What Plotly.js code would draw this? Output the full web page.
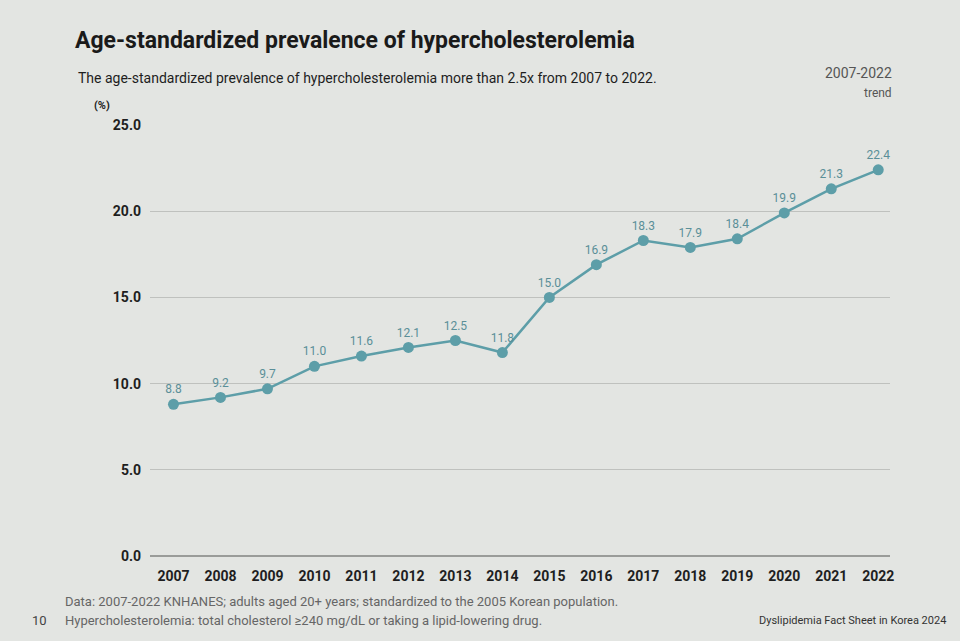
<!DOCTYPE html>
<html>
<head>
<meta charset="utf-8">
<script src="https://cdn.plot.ly/plotly-3.0.1.min.js"></script>
<style>
html,body{margin:0;padding:0;background:#e3e5e2;}
#chart{width:960px;height:641px;}
</style>
</head>
<body>
<div id="chart"></div>
<script>
const years = [2007,2008,2009,2010,2011,2012,2013,2014,2015,2016,2017,2018,2019,2020,2021,2022];
const prevalence = [8.8,9.2,9.7,11.0,11.6,12.1,12.5,11.8,15.0,16.9,18.3,17.9,18.4,19.9,21.3,22.4];
const yTicks = [0,5,10,15,20,25];
const yTickLabels = ["0.0","5.0","10.0","15.0","20.0","25.0"];

const lineColor = "#5d9ea8";

const trace = {
  x: years,
  y: prevalence,
  type: "scatter",
  mode: "lines+markers+text",
  line: {color: lineColor, width: 2.5},
  marker: {color: lineColor, size: 11},
  text: prevalence.map(v => v.toFixed(1)),
  textposition: "top center",
  textfont: {family: "Roboto, sans-serif", size: 12, color: "#5a8f98"},
  cliponaxis: false,
  hoverinfo: "skip"
};

const layout = {
  width: 960,
  height: 641,
  paper_bgcolor: "#e3e5e2",
  plot_bgcolor: "#e3e5e2",
  margin: {l: 150, r: 70, t: 125, b: 85},
  showlegend: false,
  font: {family: "Roboto, sans-serif", color: "#222"},
  xaxis: {
    range: [2006.5, 2022.25],
    tickvals: years,
    ticktext: years.map(String),
    showgrid: false,
    zeroline: false,
    showline: false,
    ticks: "",
    ticklabelstandoff: 10,
    tickfont: {family: "Roboto, sans-serif", size: 14, color: "#1e1e1e", weight: "bold"}
  },
  yaxis: {
    range: [0, 25],
    tickvals: yTicks,
    ticktext: yTickLabels,
    showgrid: true,
    gridcolor: "#bfc1be",
    gridwidth: 1,
    zeroline: true,
    zerolinecolor: "#9a9c99",
    zerolinewidth: 1.2,
    showline: false,
    ticks: "",
    ticklabelstandoff: 8,
    tickfont: {family: "Roboto, sans-serif", size: 14, color: "#1e1e1e", weight: "bold"}
  },
  title: {
    text: "<b>Age-standardized prevalence of hypercholesterolemia</b>",
    x: 75 / 960, xref: "container", xanchor: "left",
    y: 1 - 40 / 641, yref: "container", yanchor: "middle",
    font: {family: "Roboto, sans-serif", size: 23, color: "#1a1a1a"},
    automargin: false
  },
  annotations: [
    {xref: "paper", yref: "paper", x: -0.1, y: 1.109, xanchor: "left", yanchor: "middle", showarrow: false,
     text: "The age-standardized prevalence of hypercholesterolemia more than 2.5x from 2007 to 2022.",
     font: {family: "Roboto, sans-serif", size: 14, color: "#1e1e1e"}},
    {xref: "paper", yref: "paper", x: -0.078, y: 1.045, xanchor: "left", yanchor: "middle", showarrow: false,
     text: "<b>(%)</b>", font: {family: "Roboto, sans-serif", size: 11, color: "#222"}},
    {xref: "paper", yref: "paper", x: 1.005, y: 1.12, xanchor: "right", yanchor: "middle", showarrow: false,
     text: "2007-2022", font: {family: "Roboto, sans-serif", size: 14, color: "#555"}},
    {xref: "paper", yref: "paper", x: 1.005, y: 1.075, xanchor: "right", yanchor: "middle", showarrow: false,
     text: "trend", font: {family: "Roboto, sans-serif", size: 12, color: "#555"}},
    {xref: "paper", yref: "paper", x: -0.118, y: -0.105, xanchor: "left", yanchor: "middle", showarrow: false,
     text: "Data: 2007-2022 KNHANES; adults aged 20+ years; standardized to the 2005 Korean population.",
     font: {family: "Roboto, sans-serif", size: 13, color: "#666"}},
    {xref: "paper", yref: "paper", x: -0.118, y: -0.15, xanchor: "left", yanchor: "middle", showarrow: false,
     text: "Hypercholesterolemia: total cholesterol ≥240 mg/dL or taking a lipid-lowering drug.",
     font: {family: "Roboto, sans-serif", size: 13, color: "#666"}},
    {xref: "paper", yref: "paper", x: -0.162, y: -0.15, xanchor: "left", yanchor: "middle", showarrow: false,
     text: "10", font: {family: "Roboto, sans-serif", size: 13, color: "#444"}},
    {xref: "paper", yref: "paper", x: 1.078, y: -0.15, xanchor: "right", yanchor: "middle", showarrow: false,
     text: "Dyslipidemia Fact Sheet in Korea 2024", font: {family: "Roboto, sans-serif", size: 11, color: "#333"}}
  ]
};

Plotly.newPlot("chart", [trace], layout, {displayModeBar: false, staticPlot: true});
</script>
</body>
</html>
